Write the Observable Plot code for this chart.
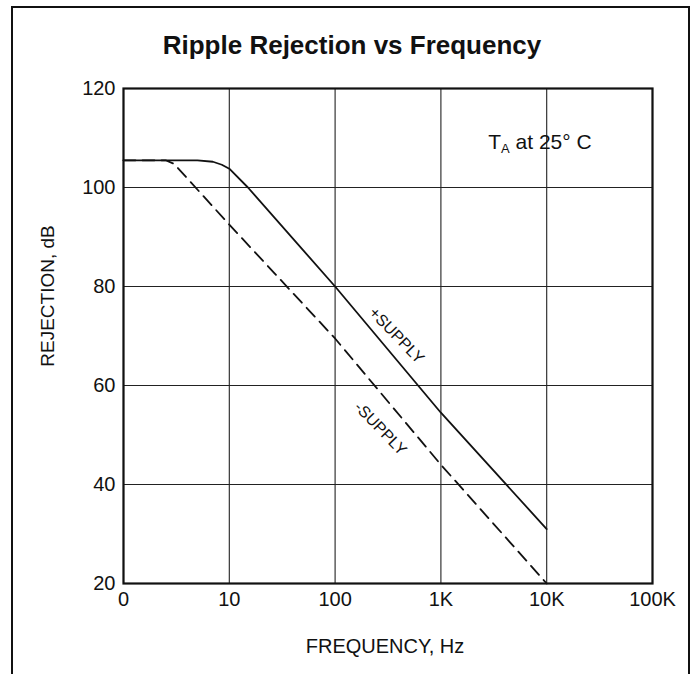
<!DOCTYPE html>
<html><head><meta charset="utf-8">
<script src="https://cdn.jsdelivr.net/npm/d3@7"></script>
<script src="https://cdn.jsdelivr.net/npm/@observablehq/plot@0.6"></script>
<style>
body{margin:0;background:#fff;font-family:"Liberation Sans",Arial,sans-serif;}
#wrap{position:relative;width:694px;height:674px;overflow:hidden;background:#fff;}
#border{position:absolute;left:11px;top:6px;width:679px;height:690px;border:2px solid #111;box-sizing:border-box;pointer-events:none;}
#title{height:70px;box-sizing:border-box;padding-top:30px;padding-left:10px;text-align:center;font-weight:bold;font-size:26px;line-height:30px;color:#111;}
#chart svg{display:block;}
</style></head><body>
<div id="wrap"><div id="border"></div><div id="title">Ripple Rejection vs Frequency</div><div id="chart"></div></div>
<script>
// Tick values and labels
const xTicks = [1, 10, 100, 1000, 10000, 100000];
const xTickLabels = ["0", "10", "100", "1K", "10K", "100K"];
const yTicks = [20, 40, 60, 80, 100, 120];

// +SUPPLY (solid)
const plusFreq = [1, 5, 7, 8.5, 10, 15, 100, 1000, 10000];
const plusRej  = [105.5, 105.5, 105.2, 104.6, 103.8, 100, 80, 54.5, 31];

// -SUPPLY (dashed)
const minusFreq = [1, 2.5, 3, 10, 100, 1000, 10000];
const minusRej  = [105.5, 105.5, 104.8, 92.5, 69.5, 44, 20];

// Curve labels
const curveLabels = ["+SUPPLY", "-SUPPLY"];
const curveLabelFreq = [381, 268];
const curveLabelRej = [70.1, 51.3];

// Condition note
const noteText = "TA at 25° C";
const noteFreq = 2800;
const noteRej = 109.1;

const plusData = plusFreq.map((f, i) => ({f, r: plusRej[i]}));
const minusData = minusFreq.map((f, i) => ({f, r: minusRej[i]}));
const labelData = curveLabels.map((t, i) => ({t, f: curveLabelFreq[i], r: curveLabelRej[i]}));
const xLabelMap = new Map(xTicks.map((v, i) => [v, xTickLabels[i]]));

const chart = Plot.plot({
  width: 694,
  height: 604,
  marginLeft: 123,
  marginRight: 42,
  marginTop: 18,
  marginBottom: 91,
  style: {fontFamily: "'Liberation Sans', Arial, sans-serif", fontSize: "20px", color: "#111", background: "white"},
  x: {type: "log", domain: [1, 100000]},
  y: {type: "linear", domain: [20, 120]},
  marks: [
    Plot.ruleX(xTicks, {x: d => d, stroke: "#222", strokeWidth: 1.1}),
    Plot.ruleY(yTicks, {y: d => d, stroke: "#222", strokeWidth: 1.1}),
    Plot.frame({stroke: "#111", strokeWidth: 2.2}),
    Plot.axisX({ticks: xTicks, tickSize: 0, tickPadding: 8, tickFormat: d => xLabelMap.get(d), label: null, fontSize: 20}),
    Plot.axisY({ticks: yTicks, tickSize: 0, tickPadding: 8, label: null, fontSize: 20}),
    Plot.line(plusData, {x: "f", y: "r", stroke: "#111", strokeWidth: 1.8}),
    Plot.line(minusData, {x: "f", y: "r", stroke: "#111", strokeWidth: 1.8, strokeDasharray: "12,7"}),
    Plot.text(labelData, {x: "f", y: "r", text: "t", rotate: 46, fontSize: 16, fill: "#111"}),
    Plot.text([noteText], {x: () => noteFreq, y: () => noteRej, text: d => d, textAnchor: "start", fontSize: 21, fill: "#111"}),
    Plot.text(["REJECTION, dB"], {text: d => d, frameAnchor: "left", textAnchor: "middle", lineAnchor: "middle", rotate: -90, dx: -76, dy: -40, fontSize: 19, fill: "#111"}),
    Plot.text(["FREQUENCY, Hz"], {text: d => d, frameAnchor: "bottom", textAnchor: "middle", lineAnchor: "middle", dx: -3, dy: 63, fontSize: 20, fill: "#111"})
  ]
});

// subscript "A" in the condition note
d3.select(chart).selectAll("text").filter(function() { return this.textContent === noteText; })
  .each(function() {
    const t = d3.select(this);
    t.text(null);
    t.append("tspan").text("T");
    t.append("tspan").attr("font-size", 13).attr("dy", 4).text("A");
    t.append("tspan").attr("dy", -4).text(" at 25° C");
  });

document.getElementById("chart").appendChild(chart);
</script>
</body></html>
